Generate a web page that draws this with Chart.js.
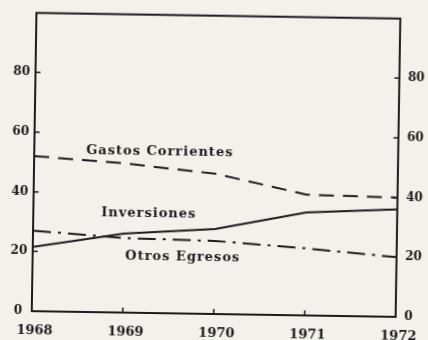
<!DOCTYPE html>
<html lang="es">
<head>
<meta charset="utf-8">
<title>Egresos 1968-1972</title>
<script src="https://cdn.jsdelivr.net/npm/chart.js@4.4.1/dist/chart.umd.min.js"></script>
<style>
    html, body {
        margin: 0;
        padding: 0;
        background: #f3f1ec;
        overflow: hidden;
    }
    #wrap {
        width: 428px;
        height: 340px;
        transform: rotate(0.9deg);
        transform-origin: 50% 50%;
    }
    canvas {
        display: block;
    }
</style>
</head>
<body>
<div id="wrap">
    <canvas id="egresosChart" width="428" height="340"></canvas>
</div>
<script>
// Series, one value per year
const years = [1968, 1969, 1970, 1971, 1972];
const gastosCorrientes = [52, 50, 47, 40.5, 40];
const inversiones = [21.5, 26.5, 28.5, 34.5, 36];
const otrosEgresos = [27, 25, 24.5, 22.5, 20];

// Tick labels on both vertical axes
const yTicks = [0, 20, 40, 60, 80];

// Names written next to each line
const seriesNames = ['Gastos Corrientes', 'Inversiones', 'Otros Egresos'];

const INK = '#1c1c1c';
const tickFont = { family: 'DejaVu Serif', weight: 'bold', size: 12 };
const yearFont = { family: 'DejaVu Serif', weight: 'bold', size: 13 };

// where each name sits, in data units (year, value)
const nameSpots = [
    { x: 1969.38, y: 54.1 },
    { x: 1969.27, y: 33.3 },
    { x: 1969.65, y: 18.8 }
];

function points(values) {
    return years.map((year, i) => ({ x: year, y: values[i] }));
}

/**
 * Box round the plot, short inward tick marks, and the line names
 */
const framePlugin = {
    id: 'frame',
    afterDatasetsDraw(chart) {
        const { ctx, chartArea: area, scales } = chart;
        const xs = scales.x;
        const ys = scales.y;

        ctx.save();
        ctx.strokeStyle = INK;
        ctx.lineWidth = 2;
        ctx.strokeRect(area.left, area.top, area.right - area.left, area.bottom - area.top);

        // tick marks point into the plot
        ctx.lineWidth = 1.5;
        ctx.beginPath();
        yTicks.forEach(v => {
            const py = ys.getPixelForValue(v);
            ctx.moveTo(area.left, py);
            ctx.lineTo(area.left + 5, py);
            ctx.moveTo(area.right, py);
            ctx.lineTo(area.right - 5, py);
        });
        years.slice(1, -1).forEach(year => {
            const px = xs.getPixelForValue(year);
            ctx.moveTo(px, area.bottom);
            ctx.lineTo(px, area.bottom - 5);
        });
        ctx.stroke();

        // series names
        ctx.fillStyle = INK;
        ctx.font = 'bold 13px "DejaVu Serif"';
        ctx.letterSpacing = '1px';
        ctx.textAlign = 'center';
        ctx.textBaseline = 'middle';
        seriesNames.forEach((name, i) => {
            const spot = nameSpots[i];
            ctx.fillText(name, xs.getPixelForValue(spot.x), ys.getPixelForValue(spot.y));
        });
        ctx.restore();
    }
};

const canvas = document.getElementById('egresosChart');

new Chart(canvas.getContext('2d'), {
    type: 'line',
    data: {
        datasets: [
            {
                label: seriesNames[0],
                data: points(gastosCorrientes),
                borderColor: INK,
                borderWidth: 2,
                borderDash: [15, 9]
            },
            {
                label: seriesNames[1],
                data: points(inversiones),
                borderColor: INK,
                borderWidth: 2
            },
            {
                label: seriesNames[2],
                data: points(otrosEgresos),
                borderColor: INK,
                borderWidth: 2,
                borderDash: [18, 7, 3, 7]
            }
        ]
    },
    options: {
        responsive: false,
        animation: false,
        events: [],
        layout: {
            padding: { top: 14, left: 0, right: 0, bottom: 0 }
        },
        elements: {
            point: { radius: 0 },
            line: { tension: 0, borderCapStyle: 'butt' }
        },
        plugins: {
            legend: { display: false },
            tooltip: { enabled: false }
        },
        scales: {
            x: {
                type: 'linear',
                position: 'bottom',
                min: years[0],
                max: years[years.length - 1],
                afterBuildTicks: (scale) => {
                    scale.ticks = years.map(v => ({ value: v }));
                },
                afterFit: (scale) => {
                    scale.height = 26;
                },
                grid: { display: false, drawTicks: false },
                border: { display: false },
                ticks: {
                    color: INK,
                    font: yearFont,
                    padding: 12,
                    labelOffset: 3,
                    maxRotation: 0,
                    autoSkip: false,
                    callback: (value) => String(value)
                }
            },
            y: {
                type: 'linear',
                position: 'left',
                min: 0,
                max: 100,
                afterBuildTicks: (scale) => {
                    scale.ticks = yTicks.map(v => ({ value: v }));
                },
                afterFit: (scale) => {
                    scale.width = 34;
                },
                grid: { display: false, drawTicks: false },
                border: { display: false },
                ticks: {
                    color: INK,
                    font: tickFont,
                    crossAlign: 'center',
                    padding: 5.5
                }
            },
            yRight: {
                type: 'linear',
                position: 'right',
                min: 0,
                max: 100,
                afterBuildTicks: (scale) => {
                    scale.ticks = yTicks.map(v => ({ value: v }));
                },
                afterFit: (scale) => {
                    scale.width = 27;
                },
                grid: { display: false, drawTicks: false },
                border: { display: false },
                ticks: {
                    color: INK,
                    font: tickFont,
                    padding: 8.5
                }
            }
        }
    },
    plugins: [framePlugin]
});
</script>
</body>
</html>
